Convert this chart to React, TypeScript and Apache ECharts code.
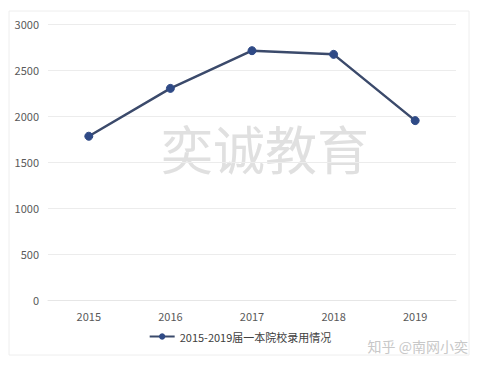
import React, { useEffect, useRef } from "react";
import * as echarts from "echarts";

const categories = ["2015", "2016", "2017", "2018", "2019"];
const values = [1780, 2300, 2710, 2670, 1950];
const seriesName = "2015-2019届一本院校录用情况";
const yTicks = { min: 0, max: 3000, interval: 500 };

export default function App() {
  const ref = useRef<HTMLDivElement>(null);
  useEffect(() => {
    if (!ref.current) return;
    const chart = echarts.init(ref.current, null, { renderer: "svg" });
    chart.setOption({
      animation: false,
      backgroundColor: "#ffffff",
      textStyle: { fontFamily: "Noto Sans CJK SC, sans-serif" },
      grid: { left: 48, right: 24, top: 24, bottom: 67 },
      graphic: [
        {
          type: "rect",
          shape: { x: 9, y: 11, width: 460, height: 344 },
          style: { fill: "none", stroke: "#eeeeee", lineWidth: 1 },
          z: -1,
        },
        {
          type: "text",
          x: 265,
          y: 147,
          style: {
            text: "奕诚教育",
            fontSize: 52,
            fontFamily: "Noto Sans CJK SC",
            fill: "#e0e0e0",
            align: "center",
            verticalAlign: "middle",
          },
          z: 0,
        },
        {
          type: "text",
          x: 468,
          y: 346,
          style: {
            text: "知乎 @南网小奕",
            fontSize: 14,
            fontFamily: "Noto Sans CJK SC",
            fill: "#c8c8c8",
            align: "right",
            verticalAlign: "middle",
          },
        },
      ],
      legend: {
        data: [seriesName],
        bottom: 20,
        left: "center",
        itemWidth: 25,
        itemHeight: 8,
        textStyle: { color: "#404040", fontSize: 11 },
      },
      xAxis: {
        type: "category",
        data: categories,
        boundaryGap: true,
        axisLine: { show: true, lineStyle: { color: "#e6e6e6" } },
        axisTick: { show: false },
        axisLabel: { color: "#595959", fontSize: 11, margin: 10 },
      },
      yAxis: {
        type: "value",
        min: yTicks.min,
        max: yTicks.max,
        interval: yTicks.interval,
        axisLine: { show: false },
        axisTick: { show: false },
        axisLabel: {
          color: "#595959",
          fontSize: 11,
          margin: 9,
          formatter: (v: number) => String(v),
        },
        splitLine: { lineStyle: { color: "#ececec" } },
      },
      series: [
        {
          name: seriesName,
          type: "line",
          data: values,
          symbol: "circle",
          symbolSize: 8,
          lineStyle: { color: "#3b4a6b", width: 2.5 },
          itemStyle: { color: "#2f4a86", borderColor: "#2f4a86" },
          z: 3,
        },
      ],
    });
    return () => chart.dispose();
  }, []);
  return (
    <div
      ref={ref}
      style={{ position: "fixed", left: 0, top: 0, width: 480, height: 367 }}
    />
  );
}
